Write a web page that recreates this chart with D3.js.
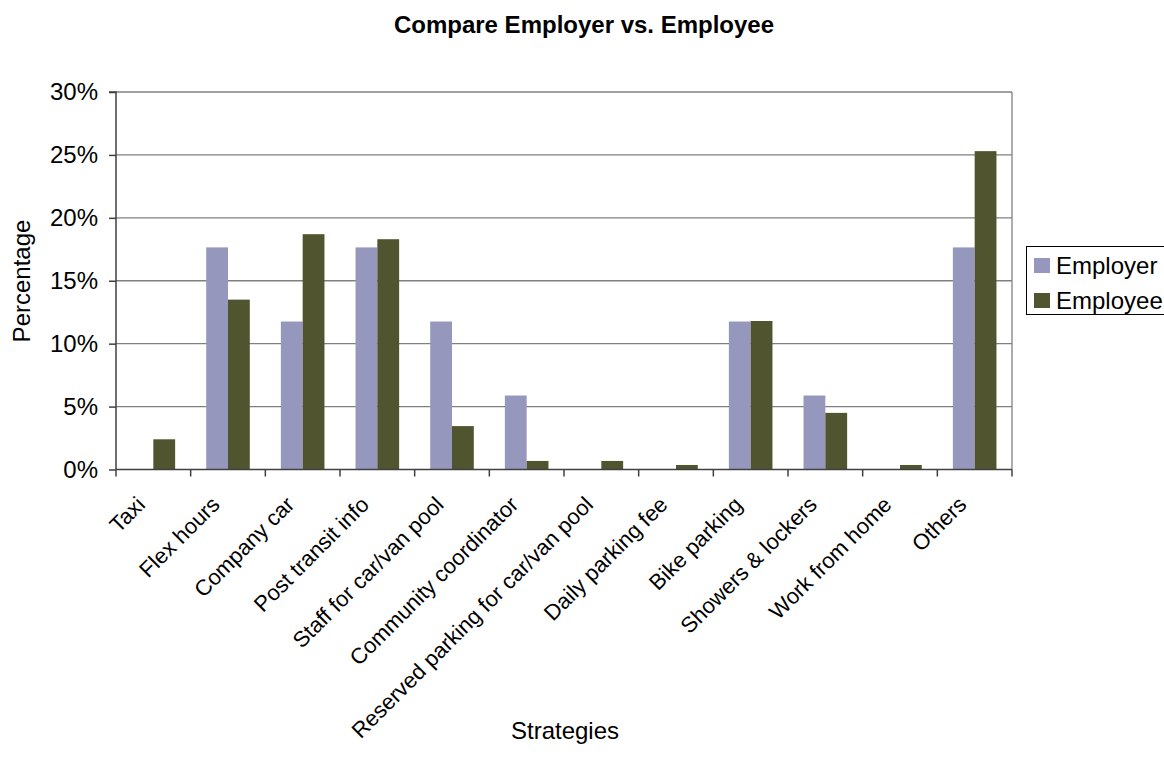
<!DOCTYPE html>
<html>
<head>
<meta charset="utf-8">
<script src="https://cdn.jsdelivr.net/npm/d3@7"></script>
<style>
  html, body { margin: 0; padding: 0; background: #fff; }
  text { font-family: "Liberation Sans", Arial, sans-serif; fill: #000; }
</style>
</head>
<body>
<svg id="chart" width="1164" height="769"></svg>
<script>
const categories = ["Taxi", "Flex hours", "Company car", "Post transit info", "Staff for car/van pool",
  "Community coordinator", "Reserved parking for car/van pool", "Daily parking fee", "Bike parking",
  "Showers & lockers", "Work from home", "Others"];
const seriesNames = ["Employer", "Employee"];
const employerValues = [0, 17.65, 11.76, 17.65, 11.76, 5.88, 0, 0, 11.76, 5.88, 0, 17.65];
const employeeValues = [2.4, 13.5, 18.7, 18.3, 3.45, 0.68, 0.68, 0.36, 11.8, 4.5, 0.36, 25.3];
const yTicks = [0, 5, 10, 15, 20, 25, 30];
const colors = ["#9598BC", "#51552F"];

const svg = d3.select("#chart");
const pLeft = 116, pRight = 1012, pTop = 92, pBottom = 469.5;

const x0 = d3.scaleBand().domain(categories).range([pLeft, pRight]).paddingInner(0.416).paddingOuter(0.208);
const x1 = d3.scaleBand().domain(seriesNames).range([0, x0.bandwidth()]);
const y = d3.scaleLinear().domain([0, 30]).range([pBottom, pTop]);

// gridlines
svg.append("g").selectAll("line").data(yTicks.filter(t => t > 0)).join("line")
  .attr("x1", pLeft).attr("x2", pRight)
  .attr("y1", d => y(d)).attr("y2", d => y(d))
  .attr("stroke", "#808080").attr("stroke-width", 1.3);
// right border
svg.append("line").attr("x1", pRight).attr("x2", pRight).attr("y1", pTop).attr("y2", pBottom)
  .attr("stroke", "#808080").attr("stroke-width", 1.3);

// bars
const data = categories.map((c, i) => ({ c, vals: [employerValues[i], employeeValues[i]] }));
const g = svg.append("g").selectAll("g").data(data).join("g")
  .attr("transform", d => `translate(${x0(d.c)},0)`);
g.selectAll("rect").data(d => d.vals.map((v, j) => ({ v, s: seriesNames[j], j })))
  .join("rect")
  .attr("x", d => x1(d.s)).attr("width", x1.bandwidth())
  .attr("y", d => y(d.v)).attr("height", d => pBottom - y(d.v))
  .attr("fill", d => colors[d.j]);

// y axis
const yAxis = d3.axisLeft(y).tickValues(yTicks).tickSize(7).tickPadding(11).tickFormat(d => d + "%");
const ya = svg.append("g").attr("transform", `translate(${pLeft},0)`).call(yAxis);
ya.selectAll("path, line").attr("stroke", "#404040").attr("stroke-width", 1.5);
ya.select("path").attr("d", `M-7,${pTop}H0V${pBottom}`);
ya.selectAll("text").attr("font-size", 24).attr("font-family", "Liberation Sans, Arial, sans-serif").attr("fill", "#000");

// x axis
const boundaries = d3.range(categories.length + 1).map(i => pLeft + i * (pRight - pLeft) / categories.length);
svg.append("line").attr("x1", pLeft).attr("x2", pRight).attr("y1", pBottom).attr("y2", pBottom)
  .attr("stroke", "#404040").attr("stroke-width", 1.5);
svg.append("g").selectAll("line").data(boundaries).join("line")
  .attr("x1", d => d).attr("x2", d => d).attr("y1", pBottom).attr("y2", pBottom + 7)
  .attr("stroke", "#404040").attr("stroke-width", 1.5);

svg.append("g").selectAll("text").data(categories).join("text")
  .attr("transform", d => `translate(${x0(d) + x0.bandwidth() / 2 - 7},${506}) rotate(-45)`)
  .attr("text-anchor", "end")
  .attr("font-size", 22)
  .text(d => d);

// title
svg.append("text").attr("x", 584).attr("y", 33).attr("text-anchor", "middle")
  .attr("font-size", 24).attr("font-weight", "bold").text("Compare Employer vs. Employee");
// axis titles
svg.append("text").attr("x", 565).attr("y", 739).attr("text-anchor", "middle")
  .attr("font-size", 24).text("Strategies");
svg.append("text").attr("transform", "translate(30,281) rotate(-90)").attr("text-anchor", "middle")
  .attr("font-size", 24).text("Percentage");

// legend
const lg = svg.append("g");
lg.append("rect").attr("x", 1026.5).attr("y", 246.5).attr("width", 150).attr("height", 68)
  .attr("fill", "#fff").attr("stroke", "#000").attr("stroke-width", 1);
seriesNames.forEach((s, i) => {
  lg.append("rect").attr("x", 1034).attr("y", 258 + i * 35).attr("width", 16).attr("height", 15)
    .attr("fill", colors[i]);
  lg.append("text").attr("x", 1056).attr("y", 274 + i * 35).attr("font-size", 24).text(s);
});
</script>
</body>
</html>
